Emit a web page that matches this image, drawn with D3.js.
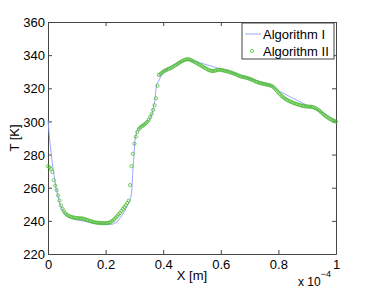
<!DOCTYPE html>
<html>
<head>
<meta charset="utf-8">
<script src="https://cdn.jsdelivr.net/npm/d3@7"></script>
<style>
  body { margin: 0; background: #fff; }
  svg text { font-family: "Liberation Sans", Arial, sans-serif; }
</style>
</head>
<body>
<div id="chart"></div>
<script>
// Algorithm I (solid line), x in units of 1e-4 m
var algo1_x = [0, 0.007, 0.015, 0.027, 0.042, 0.055, 0.067, 0.085, 0.102, 0.125, 0.148, 0.175, 0.204, 0.225, 0.240, 0.256, 0.268, 0.275, 0.282, 0.287, 0.291, 0.294, 0.297, 0.302, 0.308, 0.319, 0.335, 0.350, 0.362, 0.370, 0.377, 0.383, 0.400, 0.435, 0.481, 0.516, 0.574, 0.632, 0.690, 0.771, 0.806, 0.863, 0.921, 0.968, 1.0];
var algo1_T = [300.5, 286.8, 274.7, 260.6, 249.6, 245.0, 242.5, 241.2, 240.5, 239.8, 238.9, 238.2, 237.9, 238.0, 239.3, 243.0, 246.5, 249.0, 251.5, 253.6, 258.0, 268.7, 276.0, 288.8, 293.8, 296.8, 298.5, 300.5, 305.0, 312.0, 322.0, 324.0, 330.0, 334.0, 337.0, 336.0, 333.0, 330.0, 326.4, 322.0, 318.0, 312.9, 307.9, 303.9, 300.0];

// Algorithm II (circles), sampled every 0.005e-4 m from 0 to 1e-4 m
var algo2_T = [
  273.0, 272.3, 271.3, 269.5, 264.5, 261.3, 258.5, 255.3, 252.2, 249.3,
  247.3, 245.8, 244.6, 243.8, 243.2, 242.8, 242.4, 242.2, 242.0, 241.8,
  241.7, 241.6, 241.6, 241.5, 241.4, 241.2, 240.9, 240.6, 240.3, 240.0,
  239.7, 239.4, 239.2, 239.0, 238.9, 238.8, 238.7, 238.7, 238.6, 238.6,
  238.6, 238.7, 238.8, 239.1, 239.6, 240.2, 241.0, 241.9, 242.8, 243.8,
  244.8, 246.0, 247.2, 248.3, 249.5, 250.8, 252.2, 261.6, 273.0, 280.5,
  286.5, 290.8, 293.6, 295.3, 296.3, 297.0, 297.6, 298.2, 298.9, 299.8,
  301.0, 302.6, 304.6, 307.0, 309.8, 314.0, 321.5, 328.0, 328.6, 329.3,
  330.0, 330.5, 331.0, 331.4, 331.8, 332.2, 332.6, 333.1, 333.6, 334.1,
  334.7, 335.3, 335.9, 336.4, 336.8, 337.2, 337.4, 337.5, 337.4, 337.1,
  336.7, 336.3, 335.8, 335.3, 334.8, 334.3, 333.8, 333.3, 332.8, 332.3,
  331.8, 331.3, 330.9, 330.6, 330.4, 330.4, 330.6, 330.9, 331.1, 331.2,
  331.1, 330.9, 330.7, 330.5, 330.3, 330.1, 329.8, 329.5, 329.2, 328.9,
  328.6, 328.2, 327.8, 327.4, 327.1, 326.9, 326.7, 326.5, 326.3, 326.0,
  325.7, 325.4, 325.0, 324.6, 324.2, 323.8, 323.5, 323.2, 323.0, 322.8,
  322.6, 322.4, 322.2, 322.0, 321.8, 321.5, 321.0, 320.3, 319.4, 318.4,
  317.4, 316.5, 315.6, 314.8, 314.1, 313.5, 313.0, 312.5, 312.1, 311.7,
  311.3, 311.0, 310.7, 310.4, 310.1, 309.8, 309.6, 309.4, 309.2, 309.1,
  309.0, 308.9, 308.9, 308.8, 308.6, 308.3, 307.9, 307.4, 306.8, 306.1,
  305.3, 304.5, 303.8, 303.1, 302.5, 301.9, 301.4, 301.0, 300.6, 300.2,
  299.9
];
var algo2_x = d3.range(algo2_T.length).map(function(i) { return i * 0.005; });

var x_ticks = [0, 0.2, 0.4, 0.6, 0.8, 1];
var y_ticks = [220, 240, 260, 280, 300, 320, 340, 360];
var legend_labels = ["Algorithm I", "Algorithm II"];

var margin = {top: 22, right: 35, bottom: 34, left: 48},
    width = 371 - margin.left - margin.right,
    height = 288 - margin.top - margin.bottom;

var xScale = d3.scaleLinear().domain([0, 1]).range([0, width]);
var yScale = d3.scaleLinear().domain([220, 360]).range([height, 0]);

var svg = d3.select("#chart")
    .append("svg")
    .attr("width", 371)
    .attr("height", 288);

var g = svg.append("g")
    .attr("transform", "translate(" + margin.left + "," + margin.top + ")");

var axisColor = "#444";

// inward ticks on all four sides, like the matlab box
var fmtX = function(d) { return d === 0 || d === 1 ? String(d) : d3.format(".1f")(d); };

var xAxis = g.append("g")
    .attr("transform", "translate(0," + height + ")")
    .call(d3.axisBottom(xScale).tickValues(x_ticks).tickSizeInner(-4).tickSizeOuter(0).tickPadding(6).tickFormat(fmtX));
var xAxisTop = g.append("g")
    .call(d3.axisTop(xScale).tickValues(x_ticks).tickSizeInner(-4).tickSizeOuter(0).tickFormat(""));
var yAxis = g.append("g")
    .call(d3.axisLeft(yScale).tickValues(y_ticks).tickSizeInner(-4).tickSizeOuter(0).tickPadding(3));
var yAxisRight = g.append("g")
    .attr("transform", "translate(" + width + ",0)")
    .call(d3.axisRight(yScale).tickValues(y_ticks).tickSizeInner(-4).tickSizeOuter(0).tickFormat(""));

[xAxis, xAxisTop, yAxis, yAxisRight].forEach(function(a) {
    a.select(".domain").attr("stroke", axisColor);
    a.selectAll(".tick line").attr("stroke", axisColor);
    a.selectAll(".tick text").attr("fill", "#000").style("font-size", "13px");
});
yAxis.selectAll(".tick text").attr("dy", "0.36em");

// Algorithm I line
var line = d3.line()
    .x(function(d) { return xScale(d[0]); })
    .y(function(d) { return yScale(d[1]); });

g.append("path")
    .datum(d3.zip(algo1_x, algo1_T))
    .attr("d", line)
    .attr("fill", "none")
    .attr("stroke", "#8f9cff")
    .attr("stroke-width", 0.9);

// Algorithm II circles
g.selectAll(".pt")
    .data(d3.zip(algo2_x, algo2_T))
    .enter()
    .append("circle")
    .attr("class", "pt")
    .attr("cx", function(d) { return xScale(d[0]); })
    .attr("cy", function(d) { return yScale(d[1]); })
    .attr("r", 1.6)
    .attr("fill", "none")
    .attr("stroke", "#4dbb33")
    .attr("stroke-width", 0.8);

// labels
svg.append("text")
    .attr("x", margin.left + width / 2)
    .attr("y", 280)
    .attr("text-anchor", "middle")
    .style("font-size", "13px")
    .text("X [m]");

svg.append("text")
    .attr("transform", "translate(19," + (margin.top + height / 2) + ") rotate(-90)")
    .attr("text-anchor", "middle")
    .style("font-size", "13px")
    .text("T [K]");

var expo = svg.append("text")
    .attr("x", 298)
    .attr("y", 286)
    .style("font-size", "12px");
expo.append("tspan").text("x 10");
expo.append("tspan").attr("dy", -9).style("font-size", "9px").text("\u22124");

// legend
var leg = svg.append("g").attr("transform", "translate(242,23)");
leg.append("rect")
    .attr("width", 92).attr("height", 36)
    .attr("fill", "#fff")
    .attr("stroke", axisColor)
    .attr("stroke-width", 1);
leg.append("line")
    .attr("x1", 3).attr("x2", 19).attr("y1", 11).attr("y2", 11)
    .attr("stroke", "#8f9cff").attr("stroke-width", 0.9);
leg.append("circle")
    .attr("cx", 10).attr("cy", 28).attr("r", 1.6)
    .attr("fill", "none").attr("stroke", "#4dbb33").attr("stroke-width", 0.8);
leg.selectAll(".lt")
    .data(legend_labels)
    .enter()
    .append("text")
    .attr("class", "lt")
    .attr("x", 21)
    .attr("y", function(d, i) { return 16 + i * 17; })
    .style("font-size", "13px")
    .text(function(d) { return d; });
</script>
</body>
</html>
